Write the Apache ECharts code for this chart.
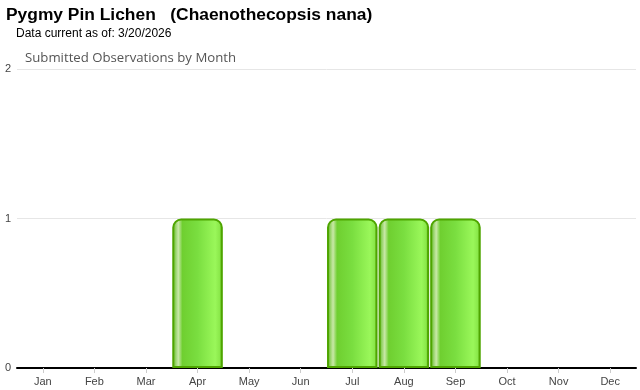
<!DOCTYPE html>
<html><head><meta charset="utf-8">
<script src="https://cdn.jsdelivr.net/npm/echarts@6/dist/echarts.min.js"></script>
<style>html,body{margin:0;padding:0;background:#fff}#c{width:640px;height:390px}</style>
</head><body><div id="c"></div>
<script>
const months = ['Jan','Feb','Mar','Apr','May','Jun','Jul','Aug','Sep','Oct','Nov','Dec'];
const observations = [0,0,0,1,0,0,1,1,1,0,0,0];
const yTicks = [0,1,2];

const chart = echarts.init(document.getElementById('c'), null, {renderer:'canvas'});
const grad = new echarts.graphic.LinearGradient(0,0,1,0,[
  {offset:0, color:'#58b000'},
  {offset:0.06, color:'#8fd060'},
  {offset:0.12, color:'#c9e8a8'},
  {offset:0.2, color:'#6fcf30'},
  {offset:0.5, color:'#7ade40'},
  {offset:0.85, color:'#9af75a'},
  {offset:0.94, color:'#8ae84a'},
  {offset:1, color:'#4fa000'}
]);
chart.setOption({
  animation:false,
  title:[
    {text:'Pygmy Pin Lichen   (Chaenothecopsis nana)', left:6, top:7, padding:0,
     textStyle:{fontFamily:'Liberation Sans, Arial', fontWeight:'bold', fontSize:17.4, color:'#000'}},
    {text:'Data current as of: 3/20/2026', left:16, top:28, padding:0,
     textStyle:{fontFamily:'Liberation Sans, Arial', fontWeight:'normal', fontSize:12, color:'#000'}},
    {text:'Submitted Observations by Month', left:25, top:52, padding:0,
     textStyle:{fontFamily:'Open Sans, Noto Sans', fontWeight:'normal', fontSize:13.2, color:'#555'}}
  ],
  grid:{left:17, right:4, top:69, bottom:22, containLabel:false},
  xAxis:{type:'category', data:months,
    axisLine:{lineStyle:{color:'#000', width:2}},
    axisTick:{show:true, alignWithLabel:true, length:5, lineStyle:{color:'#ccc'}},
    axisLabel:{color:'#444', fontSize:11, fontFamily:'Liberation Sans, Arial', margin:8}},
  yAxis:{type:'value', min:yTicks[0], max:yTicks[yTicks.length-1], interval:1,
    axisLine:{show:false}, axisTick:{show:false},
    axisLabel:{color:'#444', fontSize:11, fontFamily:'Liberation Sans, Arial', margin:6},
    splitLine:{lineStyle:{color:'#e6e6e6'}}},
  series:[{type:'bar', data:observations.map(v => v === 0 ? '-' : v), barCategoryGap:'2%',
    itemStyle:{color:grad, borderColor:'#4ea500', borderWidth:2, borderRadius:[8,8,0,0]}}]
});
</script></body></html>
